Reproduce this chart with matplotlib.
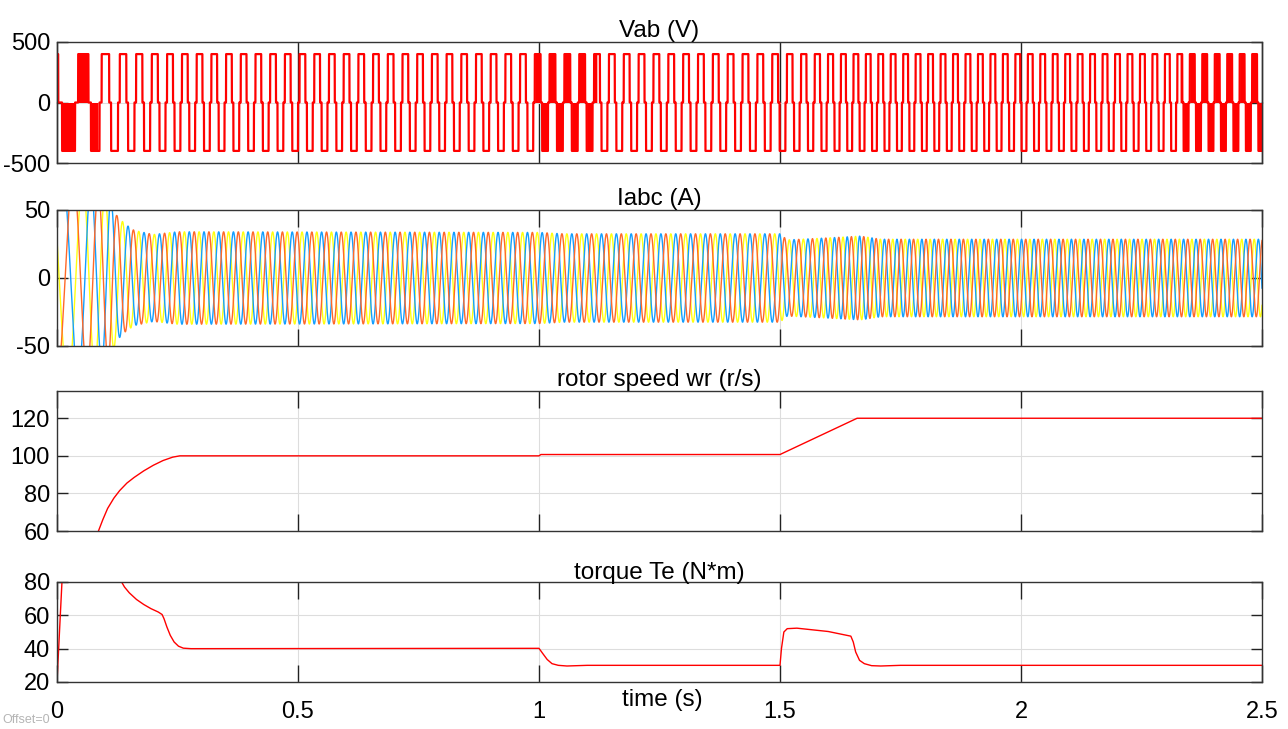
import numpy as np
import matplotlib
matplotlib.use('Agg')
import matplotlib.pyplot as plt
from matplotlib import font_manager

# values
speed_t = [0, 0.04, 0.086, 0.095, 0.105, 0.118, 0.13, 0.145, 0.16, 0.18, 0.2, 0.22, 0.24,
           0.255, 1.0, 1.004, 1.5, 1.66, 2.5]
speed_v = [0, 30, 60, 66, 72, 77.5, 81.5, 85.5, 88.5, 92, 95, 97.5, 99.3,
           100, 100, 100.7, 100.7, 120, 120]

torque_t = [0, 0.012, 0.12, 0.134, 0.14, 0.15, 0.165, 0.18, 0.195, 0.21, 0.218, 0.222, 0.228,
            0.235, 0.243, 0.252, 0.262, 0.278, 1.0, 1.008, 1.017, 1.027, 1.04, 1.058, 1.1,
            1.5, 1.503, 1.508, 1.515, 1.535, 1.6, 1.647, 1.652, 1.657, 1.665, 1.675, 1.69,
            1.709, 1.75, 2.5]
torque_v = [20, 90, 86, 80, 77, 73.5, 69.5, 66.5, 64, 62, 60.5, 58, 53,
            48, 44, 41.5, 40.3, 40, 40.2, 37, 33.5, 31, 30, 29.6, 30,
            30, 40, 50, 52, 52.3, 50.3, 47.5, 44, 38, 33, 31, 29.8,
            29.6, 30, 30]

# current envelope (peak A)
amp_t = [0, 0.11, 0.124, 0.14, 0.16, 0.2, 0.25, 1.0, 1.05, 1.5, 1.515, 1.6, 1.667, 1.709, 2.5]
amp_v = [80, 60, 46, 40, 35, 32, 34, 33.5, 32.5, 32.5, 28, 29.5, 30.8, 28.5, 28.5]

# stator (electrical) frequency in rad/s, from the pulse spacing
elec_t = [0, 0.03, 0.06, 0.09, 0.12, 0.16, 0.26, 1.0, 1.02, 1.5, 1.51, 1.66, 1.7, 2.5]
elec_w = [80, 95, 120, 150, 175, 190, 206, 206, 204, 204, 210, 246, 243, 243]

vdc = 400            # Vab pulse height
pulse_deg = 142      # width of each Vab pulse
start_deg = 130      # phase of the Vab pattern at t = 0
filled_windows = [(0.0, 0.085), (0.99, 1.12), (2.33, 2.5)]   # scope shows solid pulses here

phase_colors = ['#FFFF11', '#139FFF', '#FF6929']

# build the waveforms on a fine time base from the read values
t = np.linspace(0, 2.5, 25001)
dt = t[1] - t[0]
theta = np.cumsum(np.interp(t, elec_t, elec_w)) * dt + np.radians(start_deg)
amp = np.interp(t, amp_t, amp_v)

ang = np.degrees(theta) % 360
vab = np.where(ang < pulse_deg, vdc, np.where((ang >= 180) & (ang < 180 + pulse_deg), -vdc, 0))

# fonts
names = set(f.name for f in font_manager.fontManager.ttflist)
fam = 'Liberation Sans Narrow' if 'Liberation Sans Narrow' in names else 'Liberation Sans'
plt.rcParams['font.family'] = [fam, 'DejaVu Sans']
plt.rcParams['axes.unicode_minus'] = False

fig = plt.figure(figsize=(12.88, 7.29), dpi=100)
left, width = 57 / 1288, 1205 / 1288
rows = [(42, 163), (210, 346), (391, 531), (582, 682)]
axes = []
for top, bot in rows:
    axes.append(fig.add_axes([left, 1 - bot / 729, width, (bot - top) / 729]))

titles = ['Vab (V)', 'Iabc (A)', 'rotor speed wr (r/s)', 'torque Te (N*m)']
ylims = [(-500, 500), (-50, 50), (60, 134.5), (20, 80)]
yticks = [[-500, 0, 500], [-50, 0, 50], [60, 80, 100, 120], [20, 40, 60, 80]]
xticks = [0, 0.5, 1, 1.5, 2, 2.5]

ax = axes[0]
ax.plot(t, vab, color='red', lw=1.6)
for a, b in filled_windows:
    m = (t >= a) & (t <= b)
    ax.fill_between(t, 0, vab, where=m, color='red', lw=0)

ax = axes[1]
for k, c in enumerate(phase_colors):
    ax.plot(t, amp * np.sin(theta - k * 2 * np.pi / 3 + 0.5), color=c, lw=1.0)

axes[2].plot(speed_t, speed_v, color='red', lw=1.0)
axes[3].plot(torque_t, torque_v, color='red', lw=1.0)

for i, ax in enumerate(axes):
    ax.set_xlim(0, 2.5)
    ax.set_ylim(*ylims[i])
    ax.set_yticks(yticks[i])
    ax.set_xticks(xticks)
    ax.grid(True, color='#dddddd', lw=0.8)
    ax.set_axisbelow(True)
    for s in ax.spines.values():
        s.set_color('#333333')
        s.set_linewidth(1.0)
    xlen = 44 if i == 0 else 12
    ax.tick_params(axis='x', direction='in', top=True, bottom=True, length=xlen,
                   width=1, color='#222222', labelsize=17, pad=14)
    ax.tick_params(axis='y', direction='in', left=True, right=True, length=8,
                   width=1, color='#222222', labelsize=17, pad=5)
    if i < 3:
        ax.set_xticklabels([])
    else:
        ax.set_xticklabels(['0', '0.5', '1', '1.5', '2', '2.5'])
    ax.set_title(titles[i], fontsize=17.5, pad=2)

fig.text(0.514, 0.040, 'time (s)', ha='center', va='center', fontsize=17.5)
fig.text(0.002, 0.012, 'Offset=0', ha='left', va='center', fontsize=9, color='#b5b5b5')

fig.savefig('out.png', dpi=100)
